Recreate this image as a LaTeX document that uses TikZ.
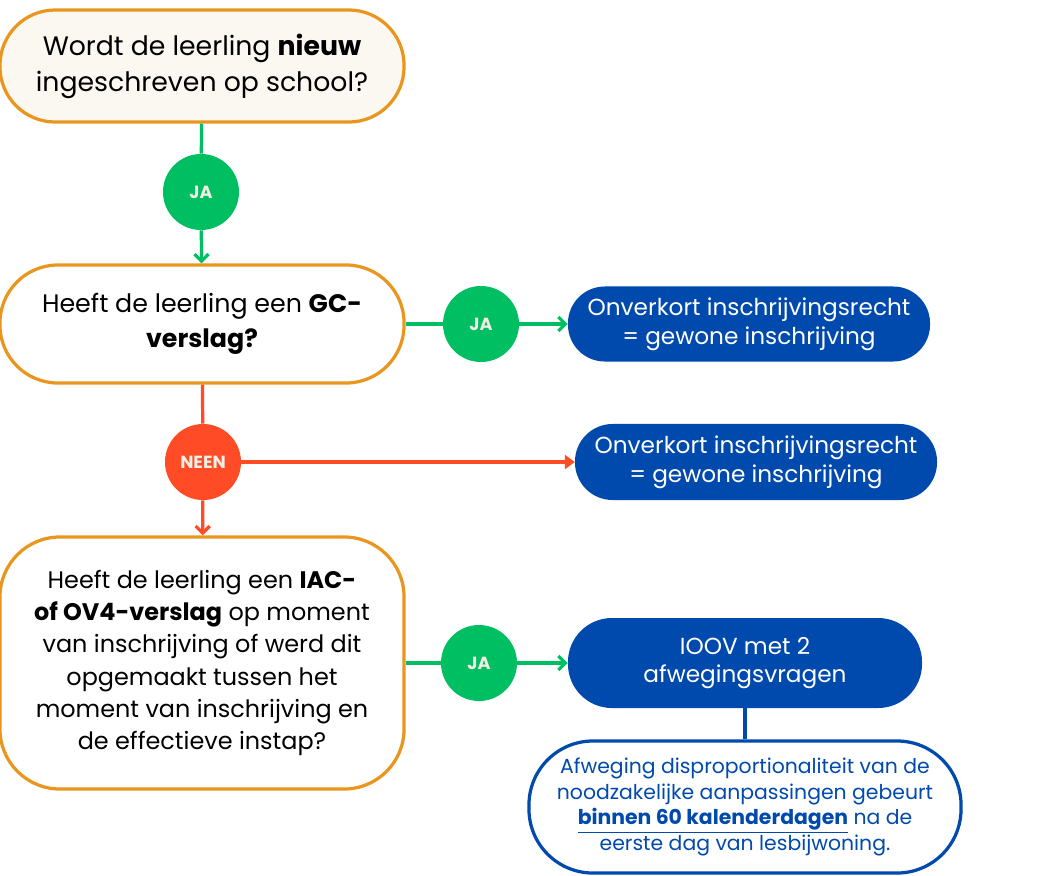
\documentclass[tikz,border=0pt]{standalone}
\usepackage{fontspec}
\setmainfont{Poppins}
\usetikzlibrary{arrows.meta}

\definecolor{orangeline}{HTML}{E8961E}
\definecolor{creamfill}{HTML}{FAF8F0}
\definecolor{jagreen}{HTML}{00BF63}
\definecolor{neenred}{HTML}{FF4B26}
\definecolor{answerblue}{HTML}{004AAD}
\definecolor{circletext}{HTML}{F2EEE2}

\begin{document}
\begin{tikzpicture}[x=0.025cm, y=-0.025cm,
  question/.style={draw=orangeline, line width=2.3pt, fill=white, align=center,
    minimum width=10.1cm, font=\fontsize{17}{23}\selectfont},
  answer/.style={fill=answerblue, text=white, align=center,
    font=\fontsize{16.5}{20.5}\selectfont},
  yes node/.style={circle, fill=jagreen, text=circletext, minimum size=1.9cm,
    inner sep=0pt, font=\bfseries\fontsize{12.5}{14}\selectfont},
  no node/.style={yes node, fill=neenred},
  yes line/.style={draw=jagreen, line width=2.3pt},
  no line/.style={draw=neenred, line width=2.3pt}]
\useasboundingbox (0,0) rectangle (1056,875);

\node[question, fill=creamfill, minimum height=2.8cm, rounded corners=1.38cm,
  font=\fontsize{19}{25.6}\selectfont] (nieuw) at (202,66)
  {Wordt de leerling \textbf{nieuw}\\ingeschreven op school?};
\node[yes node] (ja1) at (201,192) {JA};
\node[question, minimum height=2.95cm, rounded corners=1.45cm,
  font=\fontsize{18}{24.5}\selectfont] (gc) at (202,324)
  {Heeft de leerling een \textbf{GC-}\\\textbf{verslag?}};
\node[yes node] (ja2) at (481,324) {JA};
\node[answer, minimum width=9.05cm, minimum height=1.875cm, rounded corners=0.92cm] (gewoon1) at (749,324)
  {Onverkort inschrijvingsrecht\\= gewone inschrijving};
\node[no node] (neen) at (203,462) {NEEN};
\node[answer, minimum width=9.05cm, minimum height=1.9cm, rounded corners=0.94cm] (gewoon2) at (756,462)
  {Onverkort inschrijvingsrecht\\= gewone inschrijving};
\node[question, minimum height=6.3cm, rounded corners=1.5cm] (iac) at (202,663)
  {Heeft de leerling een \textbf{IAC-}\\\textbf{of OV4-verslag} op moment\\van inschrijving of werd dit\\opgemaakt tussen het\\moment van inschrijving en\\de effectieve instap?};
\node[yes node] (ja3) at (479,663) {JA};
\node[answer, minimum width=8.85cm, minimum height=2.25cm, rounded corners=1.1cm] (ioov) at (745,663)
  {IOOV met 2\\afwegingsvragen};
\node[draw=answerblue, line width=2.3pt, fill=white, text=answerblue, align=center,
  minimum width=10.8cm, minimum height=3.3cm, rounded corners=1.6cm,
  font=\fontsize{14.5}{18.4}\selectfont] (afweging) at (745,807)
  {Afweging disproportionaliteit van de\\noodzakelijke aanpassingen gebeurt\\\underline{\textbf{binnen 60 kalenderdagen}} na de\\eerste dag van lesbijwoning.};

% ja-takken
\draw[yes line] (nieuw) -- (ja1);
\draw[yes line, -{Straight Barb[length=5pt,width=10pt]}] (ja1) -- (gc);
\draw[yes line] (gc) -- (ja2);
\draw[yes line, -{Straight Barb[length=5pt,width=10pt]}] (ja2) -- (gewoon1);
\draw[yes line] (iac) -- (ja3);
\draw[yes line, -{Straight Barb[length=5pt,width=10pt]}] (ja3) -- (ioov);
% neen-tak
\draw[no line] (gc) -- (neen);
\draw[no line, -{Straight Barb[length=5pt,width=10pt]}] (neen) -- (iac);
\draw[no line, -{Triangle[length=7pt,width=10pt]}] (neen) -- (gewoon2);
\draw[draw=answerblue, line width=2.3pt] (ioov) -- (afweging);
\end{tikzpicture}
\end{document}
